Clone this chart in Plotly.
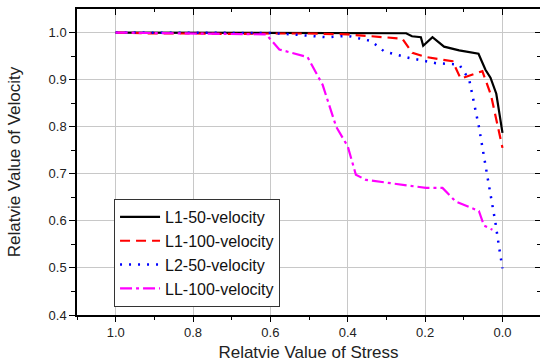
import plotly.graph_objects as go

# L1-50-velocity
x_l1_50 = [1.0, 0.9, 0.8, 0.7, 0.6, 0.5, 0.4, 0.3, 0.249, 0.234, 0.211, 0.205, 0.181, 0.151, 0.112, 0.062, 0.044, 0.031, 0.016, 0.0]
y_l1_50 = [1.0, 1.0, 1.0, 1.0, 1.0, 1.0, 1.0, 0.999, 0.9985, 0.992, 0.990, 0.972, 0.990, 0.970, 0.962, 0.955, 0.921, 0.904, 0.870, 0.787]

# L1-100-velocity
x_l1_100 = [1.0, 0.9, 0.8, 0.7, 0.6, 0.5, 0.4, 0.285, 0.259, 0.233, 0.198, 0.129, 0.108, 0.052, 0.03, 0.0]
y_l1_100 = [1.0, 0.998, 0.998, 0.997, 0.998, 0.998, 0.996, 0.988, 0.987, 0.957, 0.948, 0.939, 0.902, 0.918, 0.868, 0.755]

# L2-50-velocity
x_l2_50 = [1.0, 0.9, 0.8, 0.7, 0.6, 0.542, 0.456, 0.4, 0.34, 0.306, 0.241, 0.172, 0.112, 0.086, 0.061, 0.039, 0.026, 0.018, 0.009, 0.0]
y_l2_50 = [1.0, 1.0, 1.0, 0.999, 0.999, 0.996, 0.990, 0.993, 0.982, 0.960, 0.946, 0.935, 0.932, 0.900, 0.800, 0.694, 0.638, 0.595, 0.545, 0.499]

# LL-100-velocity
x_ll_100 = [1.0, 0.9, 0.8, 0.7, 0.611, 0.577, 0.504, 0.465, 0.43, 0.4, 0.379, 0.353, 0.198, 0.155, 0.121, 0.061, 0.048, 0.026]
y_ll_100 = [1.0, 0.999, 0.998, 0.997, 0.996, 0.964, 0.948, 0.889, 0.800, 0.758, 0.698, 0.687, 0.670, 0.670, 0.641, 0.621, 0.590, 0.581]

x_ticks = [1.0, 0.8, 0.6, 0.4, 0.2, 0.0]
x_tick_labels = ["1.0", "0.8", "0.6", "0.4", "0.2", "0.0"]
y_ticks = [0.4, 0.5, 0.6, 0.7, 0.8, 0.9, 1.0]
y_tick_labels = ["0.4", "0.5", "0.6", "0.7", "0.8", "0.9", "1.0"]

FONT = "Liberation Sans, Arial, sans-serif"
X_RANGE = [1.1, -0.097]
Y_RANGE = [0.4, 1.05]

fig = go.Figure()
fig.add_trace(go.Scatter(x=x_l1_50, y=y_l1_50, mode="lines", name="L1-50-velocity",
                         line=dict(color="black", width=2.2)))
fig.add_trace(go.Scatter(x=x_l1_100, y=y_l1_100, mode="lines", name="L1-100-velocity",
                         line=dict(color="#ff0000", width=2.2, dash="10px,6px")))
fig.add_trace(go.Scatter(x=x_l2_50, y=y_l2_50, mode="lines", name="L2-50-velocity",
                         line=dict(color="#0000ff", width=2.5, dash="2px,7px")))
fig.add_trace(go.Scatter(x=x_ll_100, y=y_ll_100, mode="lines", name="LL-100-velocity",
                         line=dict(color="#ff00ff", width=2.2, dash="12px,4px,3px,4px")))
# invisible trace to activate the mirrored axes
fig.add_trace(go.Scatter(x=[0.5], y=[0.5], xaxis="x2", yaxis="y2", mode="markers",
                         marker=dict(opacity=0), showlegend=False, hoverinfo="skip"))

fig.update_layout(
    width=540, height=363,
    margin=dict(l=77, r=0, t=9, b=48),
    paper_bgcolor="white", plot_bgcolor="white",
    font=dict(family=FONT, size=13, color="#222"),
    showlegend=True,
    legend=dict(x=0.08, y=0.379, xanchor="left", yanchor="top",
                bgcolor="white", bordercolor="#333", borderwidth=1,
                font=dict(size=16, color="#111"), tracegroupgap=0,
                itemwidth=40),
    xaxis=dict(range=X_RANGE, tickmode="array", tickvals=x_ticks, ticktext=x_tick_labels,
               showgrid=True, gridcolor="#c8c8c8", gridwidth=1, zeroline=False,
               showline=True, linecolor="black", linewidth=1.5,
               ticks="outside", ticklen=5, tickcolor="black", tickwidth=1.2,
               minor=dict(tickmode="array", tickvals=[0.9, 0.7, 0.5, 0.3, 0.1, -0.1, 1.1],
                          ticks="outside", ticklen=3, tickcolor="black", showgrid=False),
               title=dict(text="Relatvie Value of Stress", font=dict(size=17, color="#222"), standoff=7),
               tickfont=dict(size=13, color="#222")),
    yaxis=dict(range=Y_RANGE, tickmode="array", tickvals=y_ticks, ticktext=y_tick_labels,
               showgrid=True, gridcolor="#c8c8c8", gridwidth=1, zeroline=False,
               showline=True, linecolor="black", linewidth=1.5,
               ticks="outside", ticklen=6, tickcolor="black", tickwidth=1.2,
               minor=dict(tickmode="array", tickvals=[0.45, 0.55, 0.65, 0.75, 0.85, 0.95],
                          ticks="outside", ticklen=4, tickcolor="black", showgrid=False),
               title=dict(text="Relatvie Value of Velocity", font=dict(size=17, color="#222"), standoff=24),
               tickfont=dict(size=13, color="#222")),
    xaxis2=dict(range=X_RANGE, overlaying="x", side="top", anchor="y2",
                tickmode="array", tickvals=x_ticks, showticklabels=False,
                showgrid=False, zeroline=False, showline=True, linecolor="black", linewidth=1.5,
                ticks="inside", ticklen=6, tickcolor="black", tickwidth=1.2,
                minor=dict(tickmode="array", tickvals=[0.9, 0.7, 0.5, 0.3, 0.1],
                           ticks="inside", ticklen=3, tickcolor="black", showgrid=False)),
    yaxis2=dict(range=Y_RANGE, overlaying="y", side="right", anchor="x2",
                tickmode="array", tickvals=y_ticks, showticklabels=False,
                showgrid=False, zeroline=False, showline=False,
                ticks="inside", ticklen=5, tickcolor="black", tickwidth=1.2,
                minor=dict(tickmode="array", tickvals=[0.45, 0.55, 0.65, 0.75, 0.85, 0.95],
                           ticks="inside", ticklen=3, tickcolor="black", showgrid=False)),
)

fig.write_html("out.html")
